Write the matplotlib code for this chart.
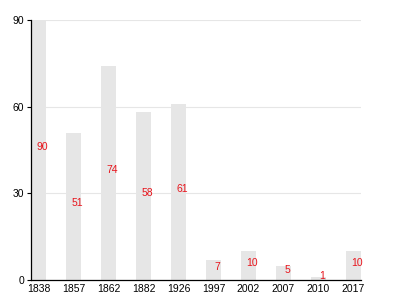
import numpy as np
import matplotlib
matplotlib.use("Agg")
import matplotlib.pyplot as plt

# Data
years = ["1838", "1857", "1862", "1882", "1926", "1997", "2002", "2007", "2010", "2017"]
values = [90, 51, 74, 58, 61, 7, 10, 5, 1, 10]
yticks = [0, 30, 60, 90]


def main():
    plt.rcParams["font.family"] = ["Liberation Sans", "DejaVu Sans"]
    fig = plt.figure(figsize=(4, 3), dpi=100)
    ax = fig.add_axes([0.0775, 0.0667, 0.825, 0.8667])

    x = np.arange(len(years))
    ax.bar(x, values, width=0.43, color="#e6e6e6", zorder=2)

    # value labels, about half way up each bar
    for xi, v in zip(x, values):
        ax.text(xi + 0.11, v / 2 + 1, str(v), color="#e8141c", fontsize=7.5,
                ha="center", va="center", zorder=3)

    # Axes sauce
    ax.set_xlim(-0.215, 9.215)
    ax.set_ylim(0, 90)
    ax.set_xticks(x)
    ax.set_xticklabels(years)
    ax.set_yticks(yticks)
    ax.tick_params(axis="x", length=0, labelsize=7.5, pad=3)
    ax.tick_params(axis="y", length=3, labelsize=7.5, pad=2)
    ax.grid(axis="y", color="#e6e6e6", linewidth=0.8, zorder=1)
    for side in ["top", "right"]:
        ax.spines[side].set_visible(False)
    ax.spines["left"].set_linewidth(0.9)
    ax.spines["bottom"].set_linewidth(0.9)

    fig.savefig("out.png", dpi=100)


if __name__ == "__main__":
    main()
